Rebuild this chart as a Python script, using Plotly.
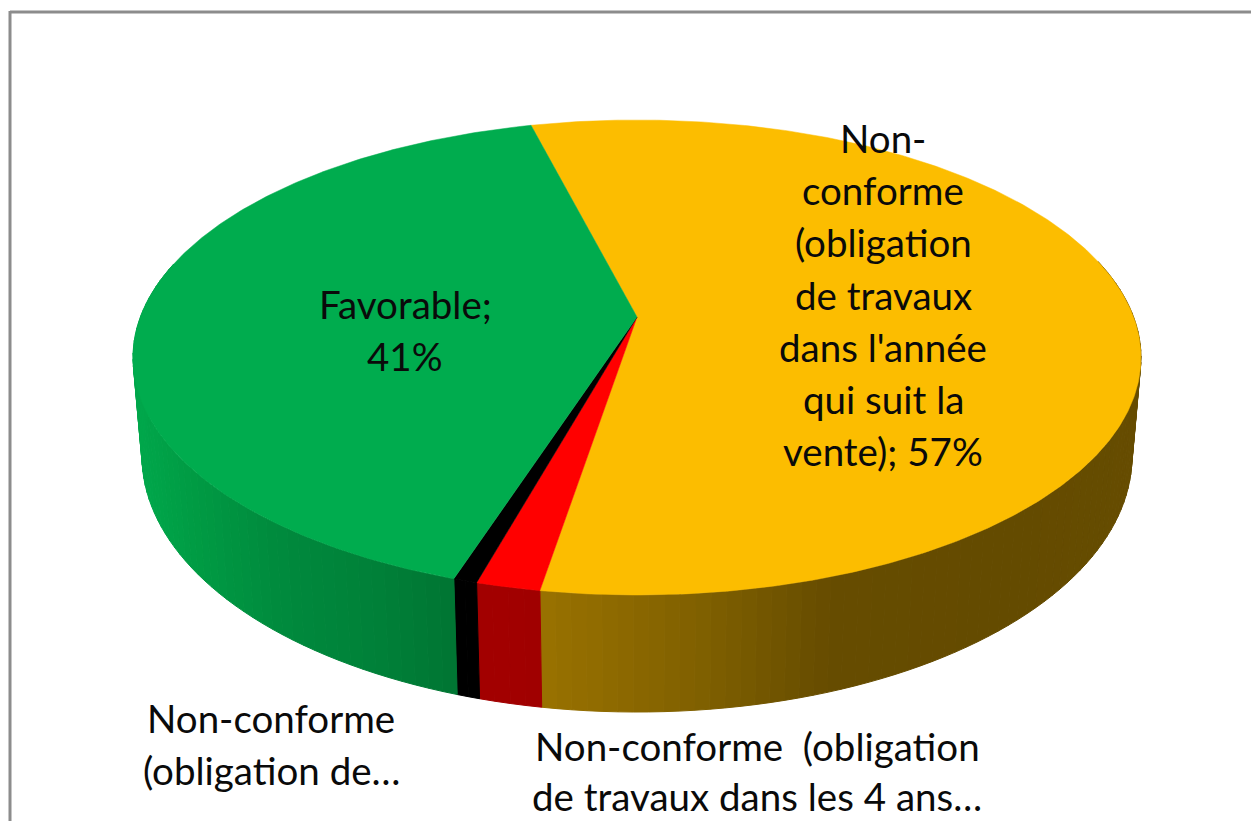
import math
import plotly.graph_objects as go

# ---- data ----
categories = [
    "Non-conforme (obligation de travaux dans l'année qui suit la vente)",
    "Non-conforme (obligation de travaux dans les 4 ans)",
    "Non-conforme (obligation de travaux)",
    "Favorable",
]
values = [56.6, 1.75, 0.65, 41.0]
top_colors = ["#FCBD00", "#FF0000", "#000000", "#00AC4E"]

label_lines_main = ["Non-", "conforme", "(obligation", "de travaux", "dans l'année", "qui suit la", "vente); 57%"]
label_lines_fav = ["Favorable;", "41%"]
label_lines_left = ["Non-conforme", "(obligation de…"]
label_lines_right = ["Non-conforme  (obligation", "de travaux dans les 4 ans…"]

# ---- style / geometry ----
W, H = 1251, 821
START = 345.6      # first slice angle, clockwise from the back of the pie
CX = 637
TOP = dict(y0=317, a=496.6, b=230.6, k=0.1705)
BOT = dict(y0=412.5, a=487.8, b=248.6, k=0.17)
wall_stops = [
    [(535, "#9A7200"), (700, "#806000"), (830, "#664C00"), (1000, "#644B00"), (1145, "#664C00")],
    [(470, "#A30000"), (545, "#A00000")],
    [(450, "#000000"), (480, "#000000")],
    [(130, "#00A94C"), (200, "#009A43"), (280, "#008A3D"), (380, "#008038"), (455, "#007532")],
]
FONT = "Lato, Carlito, Calibri, sans-serif"
FS = 38.5


def project(theta_deg, disc):
    t = math.radians(theta_deg)
    u, v = math.sin(t), -math.cos(t)
    d = 1 - disc["k"] * v
    return CX + disc["a"] * u / d, disc["y0"] + disc["b"] * v / d


def hex_rgb(h):
    return [int(h[i:i + 2], 16) for i in (1, 3, 5)]


def grad(stops, x):
    if x <= stops[0][0]:
        return stops[0][1]
    for (x0, c0), (x1, c1) in zip(stops, stops[1:]):
        if x <= x1:
            f = (x - x0) / (x1 - x0)
            a, b = hex_rgb(c0), hex_rgb(c1)
            return "rgb(%d,%d,%d)" % tuple(round(p + (q - p) * f) for p, q in zip(a, b))
    return stops[-1][1]


fig = go.Figure()

total = sum(values)
spans = []
ang = START
for val in values:
    sweep = 360 * val / total
    spans.append((ang, ang + sweep))
    ang += sweep

# side wall: thin quads between the top and bottom discs, only the visible front part
for (a0, a1), stops in zip(spans, wall_stops):
    n = max(1, int(round((a1 - a0) / 1.5)))
    for i in range(n):
        t0 = a0 + (a1 - a0) * i / n
        t1 = a0 + (a1 - a0) * (i + 1) / n
        if math.cos(math.radians((t0 + t1) / 2)) > 0.25:
            continue
        p = [project(t0, TOP), project(t1, TOP), project(t1, BOT), project(t0, BOT)]
        xm = sum(q[0] for q in p) / 4
        col = grad(stops, xm)
        fig.add_trace(go.Scatter(
            x=[q[0] for q in p] + [p[0][0]], y=[q[1] for q in p] + [p[0][1]],
            mode="lines", fill="toself", fillcolor=col,
            line=dict(color=col, width=1), hoverinfo="skip", showlegend=False))

# top face
for name, (a0, a1), col in zip(categories, spans, top_colors):
    n = max(2, int((a1 - a0) / 0.5))
    pts = [project(a0 + (a1 - a0) * i / n, TOP) for i in range(n + 1)]
    xs = [CX] + [q[0] for q in pts] + [CX]
    ys = [TOP["y0"]] + [q[1] for q in pts] + [TOP["y0"]]
    fig.add_trace(go.Scatter(x=xs, y=ys, mode="lines", fill="toself", fillcolor=col,
                             line=dict(color=col, width=0.5), name=name,
                             hoverinfo="name", showlegend=False))


def add_lines(lines, xc, y_first, step=52.2):
    for i, line in enumerate(lines):
        fig.add_annotation(x=xc, y=y_first + i * step, text=line, showarrow=False,
                           xanchor="center", yanchor="middle",
                           font=dict(family=FONT, size=FS, color="#0A0A0A"))


add_lines(label_lines_main, 883, 138)
add_lines(label_lines_fav, 405, 304)
add_lines(label_lines_left, 271, 718)
add_lines(label_lines_right, 757, 746, step=49.5)

# chart frame (top and left edges visible in the crop)
fig.add_shape(type="line", x0=10, x1=W, y0=12, y1=12, line=dict(color="#8C8C8C", width=3))
fig.add_shape(type="line", x0=10, x1=10, y0=11, y1=H, line=dict(color="#8C8C8C", width=3))

fig.update_layout(
    width=W, height=H, margin=dict(l=0, r=0, t=0, b=0),
    paper_bgcolor="#FFFFFF", plot_bgcolor="#FFFFFF", showlegend=False,
    xaxis=dict(range=[0, W], visible=False, fixedrange=True),
    yaxis=dict(range=[H, 0], visible=False, fixedrange=True),
)
fig.write_html("out.html", config={"displayModeBar": False},
               post_script="document.body.style.margin='0';document.body.style.overflow='hidden';")
